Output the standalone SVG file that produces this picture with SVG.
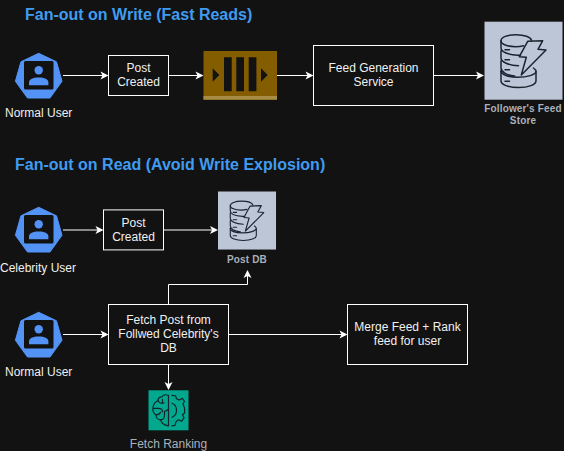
<svg xmlns="http://www.w3.org/2000/svg" width="564" height="451" viewBox="0 0 564 451">
<style>
text{font-family:"Liberation Sans",Arial,sans-serif}
.title{font-size:16px;font-weight:700;fill:#409cf0}
.box{fill:#121212;stroke:#fff;stroke-width:1}
.t{font-size:12px;fill:#f0f0f0;text-anchor:middle}
.sub{font-size:10px;font-weight:700;fill:#a9b1bb;text-anchor:middle;letter-spacing:.15px}
.g{font-size:12px;fill:#a9b1bb;text-anchor:middle}
.c{fill:none;stroke:#fff;stroke-width:1;marker-end:url(#arr)}
.ic{fill:none;stroke:#1b2430;stroke-width:1.5;stroke-linejoin:round;stroke-linecap:round}
.ib{fill:none;stroke:#12262c;stroke-width:1.2;stroke-linejoin:round;stroke-linecap:round}
</style>
<defs>
<marker id="arr" markerUnits="userSpaceOnUse" markerWidth="12" markerHeight="12" refX="6" refY="5" orient="auto" overflow="visible">
<path d="M0 1 L8 5 L0 9 L2 5Z" fill="#fff"/>
</marker>
<g id="user">
<path d="M38.7 53.3 L56.5 61.8 L62 81.3 L50 98 L27.5 98 L15.4 81.3 L20.9 61.8Z" fill="#5293f5" stroke="#5293f5" stroke-width="1" stroke-linejoin="round"/>
<rect x="24" y="61" width="29.5" height="28.5" rx="1.5" fill="#121212"/>
<circle cx="38.7" cy="70.3" r="4.2" fill="#5293f5"/>
<path d="M29 85.3 V82.5 C29 79.5 33 77.6 38.7 77.6 C44.4 77.6 48.4 79.5 48.4 82.5 V85.3Z" fill="#5293f5"/>
</g>
<g id="dynamo">
<rect width="78" height="78" fill="#bcc6d6"/>
<path class="ic" d="M47 18.5 C46 15.5 40 13 31.5 13 C23 13 16.5 15.5 16.5 19 C16.5 22.5 23 25 31 25 C34 25 37 24.6 39 24"/>
<path class="ic" d="M16.5 19 V26 C16.5 30 23 33 33 33.5 H36 M16.5 29 V36 C16.5 40 23 43.5 34 44 M16.5 39 V46 C16.5 50 22 53.5 30 54.3 M16.5 49 V59 C16.5 63 24 65.8 34 65.8 C44 65.8 51.5 63 51.5 59 V50 C51.5 48.5 50.5 47.3 49 46.3"/>
<path class="ic" d="M16.5 49.5 C17 53 24 55.5 33 55.6 C43 55.6 51 53 51.5 50"/>
<path class="ic" d="M20.5 28 H25 M20.5 38 H25 M20.5 48 H25 M20.5 59.5 H25"/>
<path class="ic" d="M43.2 19.6 L58.2 19 L53.5 27.6 L61.5 28.3 L36.8 53.3 L41.8 35.6 L34.8 35Z"/>
</g>
</defs>
<rect width="564" height="451" fill="#121212"/>
<text class="title" x="25" y="20">Fan-out on Write (Fast Reads)</text>
<text class="title" x="15" y="170">Fan-out on Read (Avoid Write Explosion)</text>

<g id="connectors">
<path class="c" d="M63 75.5 H106.5"/>
<path class="c" d="M168.5 75.5 H201.5"/>
<path class="c" d="M277 75.5 H311.5"/>
<path class="c" d="M433.5 75.5 H482"/>
<path class="c" d="M63 230 H101.5"/>
<path class="c" d="M163.5 230 H216"/>
<path class="c" d="M168.5 304.5 V284.5 H247.5 V272"/>
<path class="c" d="M63 334.5 H106.5"/>
<path class="c" d="M228.5 334.5 H345.5"/>
<path class="c" d="M168.5 364.5 V388"/>
</g>

<g id="normal-user-1">
<use href="#user"/>
<text class="t" x="38.7" y="117">Normal User</text>
</g>
<g id="post-created-1">
<rect class="box" x="108.5" y="55.5" width="60" height="40"/>
<text class="t" x="138.5" y="72">Post</text>
<text class="t" x="138.5" y="86">Created</text>
</g>
<g id="queue">
<rect x="203.5" y="51" width="73.5" height="48.7" fill="#845d00"/>
<rect x="203.5" y="96" width="73.5" height="3.7" fill="#a88b45"/>
<path d="M224 57.3h7.7v34h-7.7z M236.3 57.3h7.7v34h-7.7z M248.7 57.3h7.7v34h-7.7z M212.7 68.3 L219.3 75 L212.7 81.7Z M261 68.3 L267.7 75 L261 81.7Z" fill="#121212"/>
</g>
<g id="feed-generation-service">
<rect class="box" x="313.5" y="45.5" width="120" height="60"/>
<text class="t" x="373.5" y="72">Feed Generation</text>
<text class="t" x="373.5" y="86">Service</text>
</g>
<g id="followers-feed-store">
<use href="#dynamo" transform="translate(484.5 21.7)"/>
<text class="sub" x="523" y="112">Follower's Feed</text>
<text class="sub" x="523" y="124">Store</text>
</g>

<g id="celebrity-user">
<use href="#user" y="154"/>
<text class="t" x="38" y="272">Celebrity User</text>
</g>
<g id="post-created-2">
<rect class="box" x="103.5" y="209.9" width="60" height="40"/>
<text class="t" x="133.5" y="227">Post</text>
<text class="t" x="133.5" y="241">Created</text>
</g>
<g id="post-db">
<use href="#dynamo" transform="translate(218 191.5) scale(.744)"/>
<text class="sub" x="247" y="263">Post DB</text>
</g>

<g id="normal-user-2">
<use href="#user" y="259"/>
<text class="t" x="38.7" y="376">Normal User</text>
</g>
<g id="fetch-post">
<rect class="box" x="108.5" y="304.5" width="120" height="60"/>
<text class="t" x="168.5" y="324">Fetch Post from</text>
<text class="t" x="168.5" y="338">Follwed Celebrity's</text>
<text class="t" x="168.5" y="352">DB</text>
</g>
<g id="merge-feed">
<rect class="box" x="347.5" y="304.5" width="120" height="60"/>
<text class="t" x="407.5" y="331">Merge Feed + Rank</text>
<text class="t" x="407.5" y="345">feed for user</text>
</g>
<g id="fetch-ranking">
<rect x="148.5" y="390.3" width="40" height="40" fill="#01a88d"/>
<g transform="translate(148.5 390.3)">
<path class="ib" d="M20 5 C17 4 14.5 4.5 13.5 6.5 C11 6.5 9.5 8 9.5 10.5 C7 11.5 5 14 4.5 17 C4 20 5 23 7.5 24.5 C7.5 27.5 9.5 29.5 12 29.5 C13 32.5 15 35 20 35.5 V5Z"/>
<path class="ib" d="M9.5 10.5 C11 13 13.5 13.5 15.5 12.5 M5 18 H10 C12.5 18 14 19.5 14 21.5 M7.5 24.5 C10 24.5 11.5 23.5 12 22 M12 29.5 C14 29.5 16 28 16 25 V21 C18 20.5 20 20 20 18 M14 13 V9"/>
<path class="ib" d="M23.5 5 L27 5.5 L28 8.5 L31 9.8 L33.8 8 L36 11 L34.5 13.5 L35.5 16.5 L36 17.5 L36.2 22.5 L34 24.5 L35.5 27.5 L33 31 L30 29.5 L27.5 31.5 L26.5 35 L23.5 35.5"/>
<path class="ib" d="M23.5 13 C26 14 28 16.5 28 20 C28 23.5 26 26 23.5 27"/>
</g>
<text class="g" x="168.5" y="448">Fetch Ranking</text>
</g>
</svg>
